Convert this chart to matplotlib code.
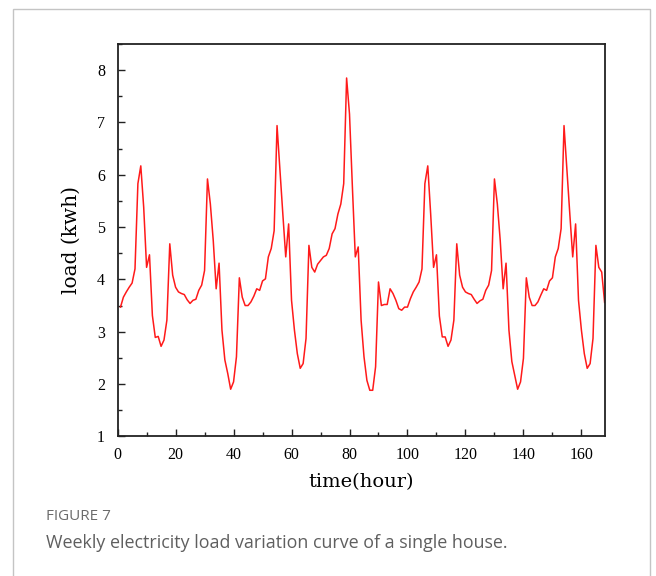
import matplotlib
matplotlib.use("Agg")
import matplotlib.pyplot as plt
from matplotlib.patches import Rectangle
from matplotlib.ticker import MultipleLocator

# hourly load over one week (hour 1..168)
hours = list(range(1, 169))
load = [
    3.47, 3.66, 3.76, 3.85, 3.93, 4.20, 5.83, 6.17, 5.38, 4.23,
    4.47, 3.31, 2.89, 2.91, 2.72, 2.84, 3.22, 4.68, 4.08, 3.85,
    3.76, 3.73, 3.71, 3.61, 3.54, 3.60, 3.62, 3.79, 3.89, 4.17,
    5.92, 5.44, 4.74, 3.82, 4.31, 3.03, 2.46, 2.20, 1.90, 2.04,
    2.52, 4.03, 3.66, 3.50, 3.50, 3.57, 3.68, 3.82, 3.79, 3.97,
    4.01, 4.43, 4.59, 4.93, 6.94, 6.08, 5.25, 4.43, 5.06, 3.60,
    3.03, 2.58, 2.30, 2.39, 2.87, 4.65, 4.23, 4.14, 4.29, 4.36,
    4.43, 4.46, 4.59, 4.87, 4.97, 5.25, 5.44, 5.83, 7.85, 7.16,
    5.76, 4.43, 4.62, 3.22, 2.52, 2.07, 1.88, 1.88, 2.33, 3.95,
    3.50, 3.52, 3.52, 3.82, 3.73, 3.60, 3.44, 3.41, 3.47, 3.47,
    3.63, 3.76, 3.85, 3.95, 4.20, 5.83, 6.17, 5.25, 4.23, 4.47,
    3.30, 2.90, 2.90, 2.72, 2.84, 3.22, 4.68, 4.08, 3.85, 3.76,
    3.73, 3.71, 3.62, 3.54, 3.59, 3.62, 3.79, 3.89, 4.17, 5.92,
    5.44, 4.74, 3.82, 4.31, 3.03, 2.43, 2.17, 1.90, 2.04, 2.49,
    4.03, 3.66, 3.50, 3.50, 3.57, 3.70, 3.82, 3.79, 3.97, 4.03,
    4.43, 4.59, 4.97, 6.94, 6.08, 5.25, 4.43, 5.06, 3.60, 3.03,
    2.58, 2.30, 2.39, 2.87, 4.65, 4.23, 4.14, 3.56,
]
x_ticks = [0, 20, 40, 60, 80, 100, 120, 140, 160]
y_ticks = [1, 2, 3, 4, 5, 6, 7, 8]

W, H = 656, 576
fig = plt.figure(figsize=(W / 100, H / 100), dpi=100)

# outer card frame
fig.patches.append(Rectangle((13 / W, -0.01), (650 - 13) / W, 1 - 9 / H + 0.01,
                             transform=fig.transFigure, fill=False,
                             edgecolor="#c4c4c4", linewidth=1.0))

ax = fig.add_axes([117.6 / W, 1 - 436.3 / H, (604.6 - 117.6) / W, (436.3 - 44) / H])
ax.plot(hours, load, color="#ff1a1a", linewidth=1.1)

ax.set_xlim(0, 168)
ax.set_ylim(1, 8.5)
ax.set_xticks(x_ticks)
ax.set_yticks(y_ticks)
ax.xaxis.set_minor_locator(MultipleLocator(10))
ax.yaxis.set_minor_locator(MultipleLocator(0.5))
ax.tick_params(which="both", direction="in", top=False, right=False,
               labelsize=11.5, width=1.0, color="#222222")
ax.tick_params(which="major", length=5)
ax.tick_params(which="minor", length=3)
ax.tick_params(axis="x", pad=8)
ax.tick_params(axis="y", pad=9)
for lab in ax.get_xticklabels() + ax.get_yticklabels():
    lab.set_fontfamily("Liberation Serif")
for s in ax.spines.values():
    s.set_linewidth(1.3)
    s.set_color("#222222")

ax.set_xlabel("time(hour)", fontsize=14, family="DejaVu Serif", labelpad=7)
ax.set_ylabel("load (kwh)", fontsize=14.5, family="DejaVu Serif", labelpad=12)

fig.text(46 / W, 1 - 517 / H, "FIGURE 7", fontsize=11, family="Open Sans",
         color="#6b6b6b", va="center", ha="left")
fig.text(46 / W, 1 - 543 / H, "Weekly electricity load variation curve of a single house.",
         fontsize=12.9, family="Open Sans", color="#5f5f5f", va="center", ha="left")

fig.savefig("out.png", dpi=100)
